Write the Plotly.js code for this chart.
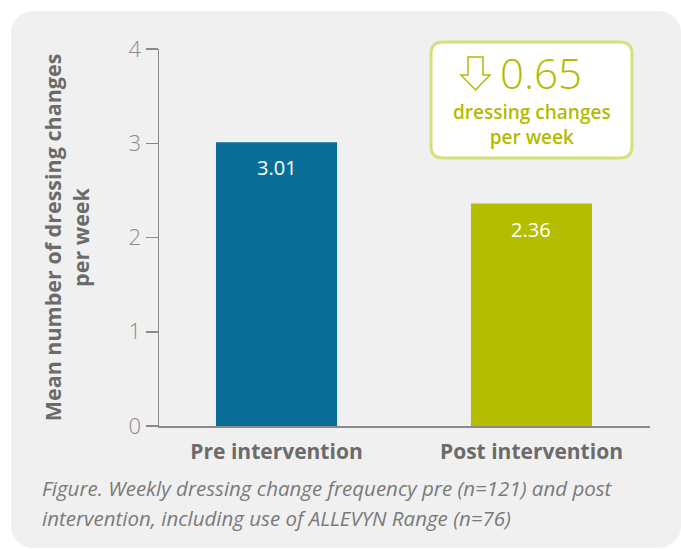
<!DOCTYPE html>
<html>
<head>
<meta charset="utf-8">
<script src="https://cdn.plot.ly/plotly-3.0.1.min.js"></script>
<style>
  html, body { margin: 0; padding: 0; background: #ffffff; }
  #panel { position: absolute; left: 11px; top: 11px; width: 670px; height: 537px; background: #f0f0f0; border-radius: 22px; }
  #chart { position: absolute; left: 0; top: 0; width: 681px; height: 549px; }
</style>
</head>
<body>
<div id="panel"></div>
<div id="chart"></div>
<script>
const categories = ["Pre intervention", "Post intervention"];
const values = [3.01, 2.36];
const valueLabels = ["3.01", "2.36"];
const barColors = ["#0a6f98", "#b5bd00"];
const yTicks = [0, 1, 2, 3, 4];
const reduction = "0.65";
const reductionUnit = "dressing changes<br>per week";
const yTitle = "Mean number of dressing changes<br>per week";
const captionLines = [
  "Figure. Weekly dressing change frequency pre (n=121) and post",
  "intervention, including use of ALLEVYN Range (n=76)"
];

const FONT = "Open Sans, Noto Sans, sans-serif";
const GREEN = "#b3bb00";

const trace = {
  type: "bar",
  x: [0, 1],
  y: values,
  marker: { color: barColors },
  hoverinfo: "none"
};

const px2x = p => (p - 159) / 491;
const py2y = p => (426 - p) / 377;

const annotations = values.map((v, i) => ({
  x: i, y: v, xref: "x", yref: "y",
  text: valueLabels[i], showarrow: false,
  yanchor: "top", yshift: -10,
  font: { family: FONT, size: 20, color: "#ffffff" }
}));

captionLines.forEach((line, i) => {
  annotations.push({
    xref: "paper", yref: "paper", x: px2x(40), y: py2y(488 + 30 * i),
    xanchor: "left", yanchor: "middle", align: "left",
    text: "<i>" + line + "</i>", showarrow: false,
    font: { family: FONT, size: 20.5, color: "#7a7a7a" }
  });
});

annotations.push({
  xref: "paper", yref: "paper", x: px2x(541), y: py2y(72),
  text: reduction, showarrow: false, xanchor: "center", yanchor: "middle",
  font: { family: FONT, size: 42, color: GREEN, weight: 300 }
});
annotations.push({
  xref: "paper", yref: "paper", x: px2x(532), y: py2y(124),
  text: reductionUnit, showarrow: false, xanchor: "center", yanchor: "middle",
  font: { family: FONT, size: 19, color: GREEN, weight: 600 }
});

const shapes = [
  {
    type: "path", xref: "paper", yref: "paper",
    xsizemode: "pixel", ysizemode: "pixel",
    xanchor: px2x(431), yanchor: py2y(42),
    path: "M 12,0 L 189,0 Q 201,0 201,-12 L 201,-104 Q 201,-116 189,-116 L 12,-116 Q 0,-116 0,-104 L 0,-12 Q 0,0 12,0 Z",
    line: { color: "#d7df78", width: 3 }, fillcolor: "#ffffff", layer: "above"
  },
  {
    type: "path", xref: "paper", yref: "paper",
    xsizemode: "pixel", ysizemode: "pixel",
    xanchor: px2x(431), yanchor: py2y(42),
    path: "M 37,-15 L 52,-15 L 52,-33 L 59,-33 L 44.5,-48 L 30,-33 L 37,-33 Z",
    line: { color: GREEN, width: 1.5 }, fillcolor: "#ffffff", layer: "above"
  }
];

const layout = {
  width: 681, height: 549,
  margin: { l: 159, r: 31, t: 49, b: 123 },
  paper_bgcolor: "rgba(0,0,0,0)",
  plot_bgcolor: "rgba(0,0,0,0)",
  showlegend: false,
  bargap: 0.525,
  font: { family: FONT },
  xaxis: {
    range: [-0.461, 1.465],
    tickvals: [0, 1], ticktext: categories,
    showgrid: false, zeroline: false,
    showline: true, linecolor: "#8a8a8a", linewidth: 1.5,
    ticks: "", ticklabelstandoff: 6,
    tickfont: { family: FONT, size: 21, color: "#6b6b6b", weight: 700 }
  },
  yaxis: {
    range: [0, 4],
    tickvals: yTicks,
    showgrid: false, zeroline: false,
    showline: true, linecolor: "#8a8a8a", linewidth: 1.5,
    ticks: "outside", ticklen: 12, tickcolor: "#8a8a8a", tickwidth: 1.5,
    tickfont: { family: FONT, size: 22, color: "#8a8a8a", weight: 300 },
    title: { text: yTitle, standoff: 33, font: { family: FONT, size: 21.5, color: "#6b6b6b", weight: 700 } }
  },
  annotations: annotations,
  shapes: shapes
};

Plotly.newPlot("chart", [trace], layout, { displayModeBar: false, staticPlot: true });
</script>
</body>
</html>
